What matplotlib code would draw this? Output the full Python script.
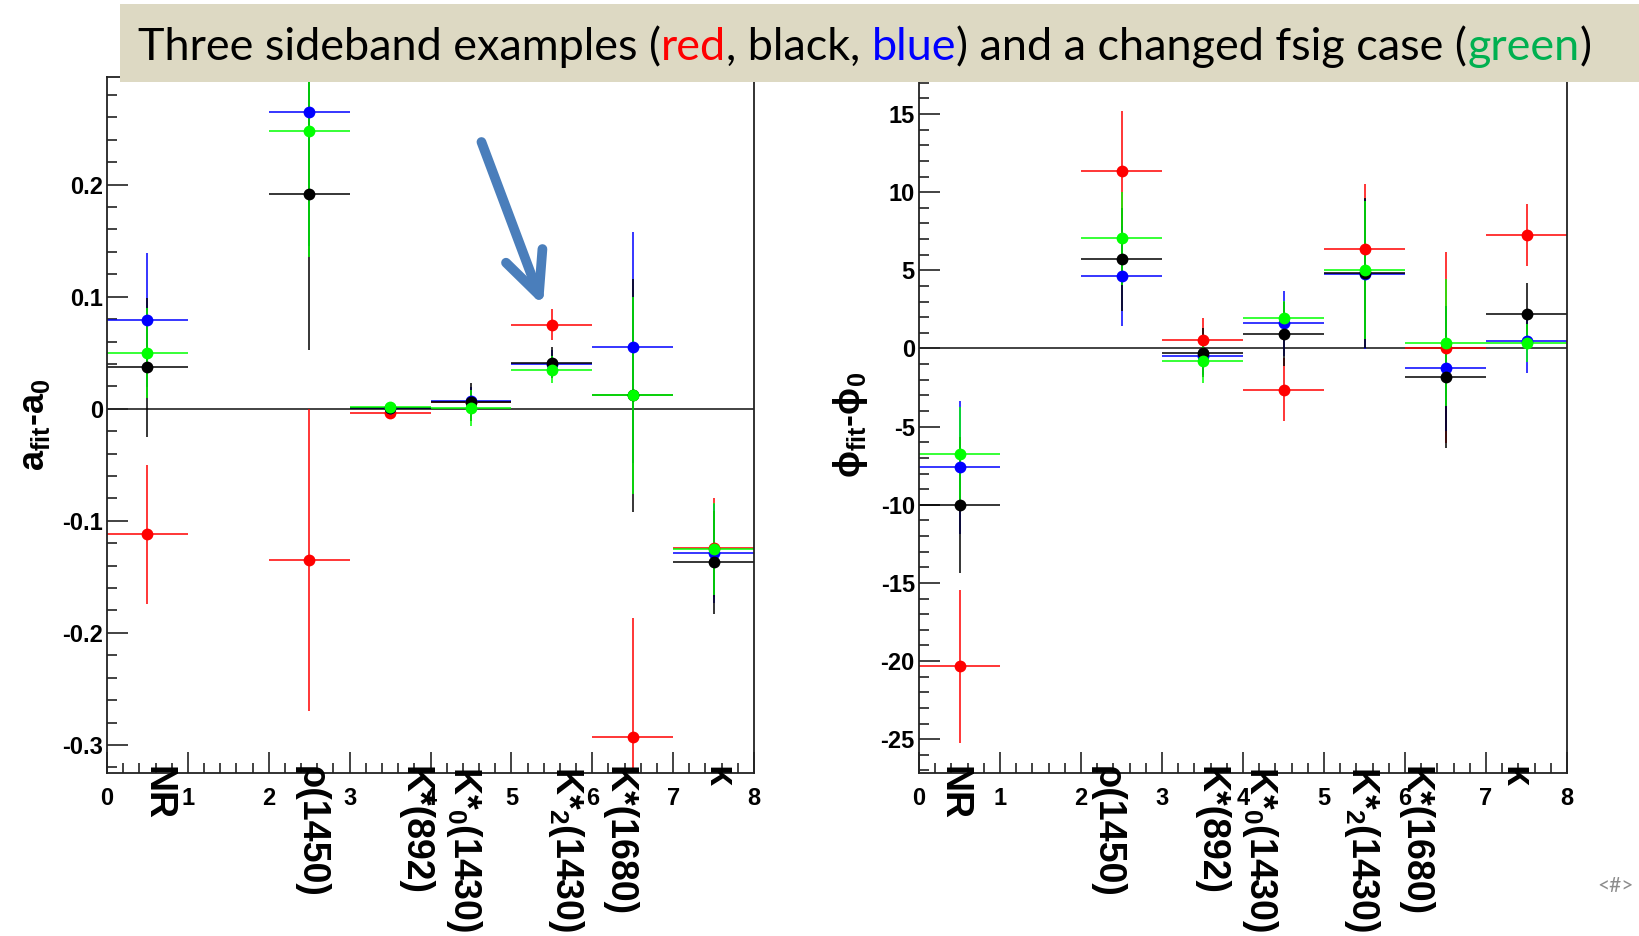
"""
Sideband fit results: amplitude and phase offsets per resonance
"""
import matplotlib
matplotlib.use('Agg')
import matplotlib.pyplot as plt
import matplotlib.transforms as mtransforms
from matplotlib.patches import Rectangle
from matplotlib.ticker import MultipleLocator

plt.rcParams['font.family'] = ['Liberation Sans', 'DejaVu Sans']
plt.rcParams['mathtext.fontset'] = 'custom'
plt.rcParams['mathtext.rm'] = 'Liberation Sans:bold'
plt.rcParams['mathtext.it'] = 'Liberation Sans:bold'
plt.rcParams['mathtext.bf'] = 'Liberation Sans:bold'
plt.rcParams['axes.unicode_minus'] = False

# ---- data -------------------------------------------------------------
resonances = ['NR', 'ρ(1450)', 'K*(892)', 'K*$_0$(1430)', 'K*$_2$(1430)',
              'K*(1680)', 'κ']
bin_centers = [0.5, 2.5, 3.5, 4.5, 5.5, 6.5, 7.5]

# a_fit - a_0
amp_red = [-0.112, -0.135, -0.004, 0.006, 0.075, -0.293, -0.124]
amp_red_err = [0.062, 0.135, 0.004, 0.004, 0.014, 0.106, 0.044]
amp_blue = [0.079, 0.265, 0.001, 0.007, 0.040, 0.055, -0.129]
amp_blue_err = [0.060, 0.120, 0.004, 0.012, 0.012, 0.103, 0.044]
amp_black = [0.037, 0.192, 0.001, 0.006, 0.041, 0.012, -0.137]
amp_black_err = [0.062, 0.140, 0.004, 0.017, 0.014, 0.104, 0.046]
amp_green = [0.050, 0.248, 0.002, 0.001, 0.035, 0.012, -0.125]
amp_green_err = [0.040, 0.113, 0.003, 0.016, 0.012, 0.088, 0.041]

# phi_fit - phi_0
phs_red = [-20.34, 11.37, 0.53, -2.63, 6.38, 0.06, 7.25]
phs_red_err = [4.9, 3.85, 1.45, 2.0, 4.14, 6.1, 2.0]
phs_blue = [-7.6, 4.65, -0.47, 1.6, 4.76, -1.26, 0.47]
phs_blue_err = [4.25, 3.2, 1.2, 2.07, 4.8, 4.0, 2.07]
phs_black = [-9.99, 5.70, -0.28, 0.92, 4.80, -1.82, 2.18]
phs_black_err = [4.35, 3.3, 1.56, 2.05, 4.8, 4.55, 2.0]
phs_green = [-6.75, 7.04, -0.81, 1.96, 5.01, 0.36, 0.34]
phs_green_err = [3.0, 3.0, 1.37, 1.1, 4.4, 4.06, 1.2]

# label placement tweak (bin units) to mimic the ROOT vertical labels
label_shift = [0.12, 0.02, 0.30, -0.09, 0.17, -0.18, 0.05]

DPI = 100
fig = plt.figure(figsize=(16.39, 9.36), dpi=DPI)
W, H = 1639.0, 936.0


def frame(x0, x1, y0, y1):
    return [x0 / W, 1 - y1 / H, (x1 - x0) / W, (y1 - y0) / H]


ax_a = fig.add_axes(frame(107, 754, 77, 773))
ax_p = fig.add_axes(frame(919, 1567, 77, 773))


def draw_panel(ax, series, ylim, major, minor, ylabel, label_x, shift):
    for vals, errs, col in series:
        ax.errorbar(bin_centers, vals, xerr=0.5, yerr=errs, fmt='o',
                    color=col, ms=8.5, mew=0, elinewidth=1.1, capsize=0)
    ax.axhline(0, color='#222222', lw=1.2, zorder=1)
    ax.set_xlim(0, 8)
    ax.set_ylim(*ylim)
    ax.xaxis.set_major_locator(MultipleLocator(1))
    ax.xaxis.set_minor_locator(MultipleLocator(0.2))
    ax.yaxis.set_major_locator(MultipleLocator(major))
    ax.yaxis.set_minor_locator(MultipleLocator(minor))
    ax.tick_params(which='both', direction='in', width=1.2, color='#222222',
                   labelsize=17)
    ax.tick_params(which='major', length=15)
    ax.tick_params(which='minor', length=7)
    ax.tick_params(axis='x', pad=10)
    ax.tick_params(axis='y', pad=3)
    for lab in ax.get_xticklabels() + ax.get_yticklabels():
        lab.set_fontweight('bold')
    for sp in ax.spines.values():
        sp.set_linewidth(1.3)
        sp.set_color('#222222')
    ax.set_ylabel(ylabel, fontsize=26, fontweight='bold')
    ax.yaxis.set_label_coords(label_x, 0.5)

    trans = mtransforms.blended_transform_factory(ax.transData, ax.transAxes)
    trans = mtransforms.offset_copy(trans, fig=fig, y=7, units='dots')
    for xc, name, dx in zip(bin_centers, resonances, label_shift):
        ax.text(xc + dx + shift, 0, name, transform=trans, rotation=-90,
                ha='center', va='top', fontsize=27, fontweight='bold',
                clip_on=False)


draw_panel(ax_a,
           [(amp_red, amp_red_err, '#FF0000'),
            (amp_blue, amp_blue_err, '#0000FF'),
            (amp_black, amp_black_err, 'black'),
            (amp_green, amp_green_err, '#00FF00')],
           (-0.325, 0.296), 0.1, 0.02, 'a$_{fit}$-a$_0$', -0.085, 0.0)
ax_a.yaxis.set_major_formatter(
    plt.FuncFormatter(lambda v, p: '0' if abs(v) < 1e-9 else f'{v:g}'))

draw_panel(ax_p,
           [(phs_red, phs_red_err, '#FF0000'),
            (phs_blue, phs_blue_err, '#0000FF'),
            (phs_black, phs_black_err, 'black'),
            (phs_green, phs_green_err, '#00FF00')],
           (-27.16, 17.37), 5, 1, r'$\phi_{fit}$-$\phi_0$', -0.076, -0.2)

# blue arrow pointing at the K*2(1430) red point
ax_a.annotate('', xy=(5.39, 0.092), xytext=(4.63, 0.238),
              arrowprops=dict(arrowstyle='->,head_length=30,head_width=14',
                              mutation_scale=1, lw=7, color='#4A7EBB',
                              capstyle='round', joinstyle='round',
                              shrinkA=0, shrinkB=0))

# title banner
fig.patches.append(Rectangle((120 / W, 1 - 82 / H), 1 - 120 / W, 78 / H,
                             transform=fig.transFigure, facecolor='#DDD9C3',
                             edgecolor='none', zorder=10))

pieces = [('Three sideband examples (', 'black'), ('red', '#FF0000'),
          (', black, ', 'black'), ('blue', '#0000FF'),
          (') and a changed fsig case (', 'black'), ('green', '#00B050'),
          (')', 'black')]
renderer = fig.canvas.get_renderer()


def text_width(s, size):
    t = fig.text(0, 0, s, fontsize=size, family='Lato')
    w = t.get_window_extent(renderer).width
    t.remove()
    return w


full = ''.join(p for p, _ in pieces)
size = 36 * 1455.0 / text_width(full, 36)
x0 = 138.0
prefix = ''
for txt, col in pieces:
    off = text_width(prefix + '|', size) - text_width('|', size) if prefix else 0
    fig.text((x0 + off) / W, 1 - 60 / H, txt, fontsize=size, family='Lato',
             color=col, va='baseline', ha='left', zorder=11)
    prefix += txt

fig.text(1597 / W, 1 - 886 / H, '<#>', fontsize=15, color='#8C8C8C',
         va='center', ha='left', family='Lato')

fig.savefig('out.png', dpi=DPI)
